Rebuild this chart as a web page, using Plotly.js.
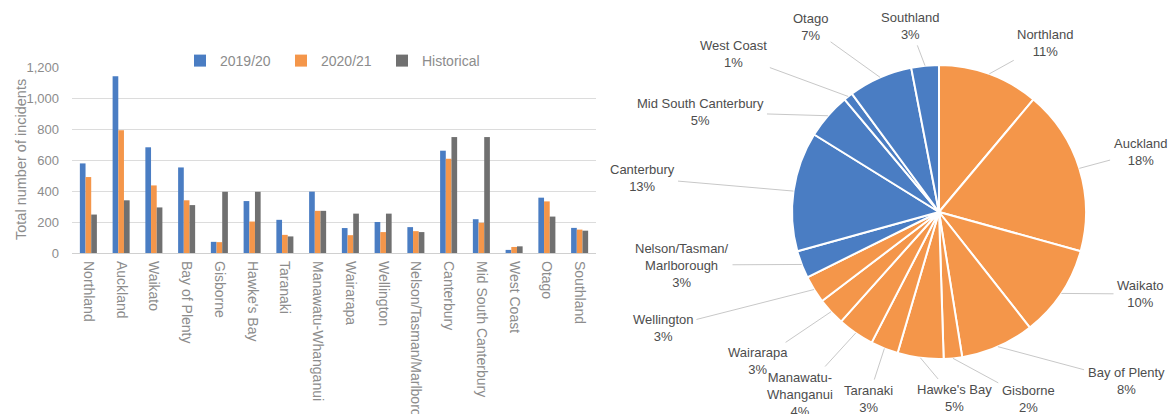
<!DOCTYPE html>
<html>
<head>
<meta charset="utf-8">
<script src="https://cdn.plot.ly/plotly-3.0.1.min.js"></script>
<style>
  html, body { margin: 0; padding: 0; background: #ffffff; }
  #chart { width: 1169px; height: 414px; }
</style>
</head>
<body>
<div id="chart"></div>
<script>
// Regions, listed north to south
const regions = [
  "Northland", "Auckland", "Waikato", "Bay of Plenty", "Gisborne", "Hawke's Bay",
  "Taranaki", "Manawatu-Whanganui", "Wairarapa", "Wellington", "Nelson/Tasman/Marlborough",
  "Canterbury", "Mid South Canterbury", "West Coast", "Otago", "Southland"
];
// Island of each region (N = North Island, S = South Island)
const island = ["N","N","N","N","N","N","N","N","N","N","S","S","S","S","S","S"];

// Incident counts per region
const incidents2019 = [578, 1140, 682, 552, 72, 335, 214, 396, 161, 200, 167, 660, 218, 20, 357, 162];
const incidents2020 = [490, 792, 436, 340, 70, 203, 117, 272, 115, 135, 141, 608, 195, 39, 333, 151];
const incidentsHist = [248, 340, 294, 309, 395, 395, 107, 272, 254, 254, 135, 748, 748, 43, 235, 144];

// Share of incidents per region (%), pie chart
const regionShare = [11, 18, 10, 8, 2, 5, 3, 4, 3, 3, 3, 13, 5, 1, 7, 3];
// Pie label text (line-wrapped region names)
const pieNames = [
  "Northland", "Auckland", "Waikato", "Bay of Plenty", "Gisborne", "Hawke's Bay",
  "Taranaki", "Manawatu-<br>Whanganui", "Wairarapa", "Wellington", "Nelson/Tasman/<br>Marlborough",
  "Canterbury", "Mid South Canterbury", "West Coast", "Otago", "Southland"
];

const yTicks = [0, 200, 400, 600, 800, 1000, 1200];

// ---- layout constants ----
const W = 1169, H = 414;
const BLUE = "#4a7dc3", ORANGE = "#f4964a", GREY = "#707070";
const AXIS_TEXT = "#8c8c8c", PIE_TEXT = "#4d4d4d";
const FONT = "Liberation Sans, Arial, sans-serif";

// bar plot area (pixels)
const barArea = { x0: 72, x1: 596, yTop: 67, yBottom: 253 };
// pie circle (pixels)
const pieC = { cx: 939, cy: 212, r: 147 };
// pie label centres (pixels), in slice order
const labelPos = [
  [1045, 43], [1140, 152], [1140, 294], [1126, 381], [1028, 399], [954, 398],
  [868, 399], [800, 394], [758, 361], [663, 328], [682, 265],
  [642, 178], [700, 112], [733, 54], [810, 27], [910, 26]
];

const px2x = p => p / W;
const px2y = p => 1 - p / H;

const barTrace = (name, y, color) => ({
  type: "bar", name: name, x: regions, y: y,
  marker: { color: color },
  xaxis: "x", yaxis: "y",
  hoverinfo: "x+y+name"
});

const pieTrace = {
  type: "pie",
  labels: regions,
  values: regionShare,
  sort: false,
  direction: "clockwise",
  rotation: 0,
  textinfo: "none",
  showlegend: false,
  marker: {
    colors: island.map(s => s === "N" ? ORANGE : BLUE),
    line: { color: "#ffffff", width: 2 }
  },
  domain: {
    x: [px2x(pieC.cx - pieC.r), px2x(pieC.cx + pieC.r)],
    y: [px2y(pieC.cy + pieC.r), px2y(pieC.cy - pieC.r)]
  }
};

// pie labels with leader lines to the middle of each slice's rim
const total = regionShare.reduce((a, b) => a + b, 0);
let cum = 0;
const pieAnnotations = regionShare.map((v, i) => {
  const mid = (cum + v / 2) / total * 2 * Math.PI;
  cum += v;
  const rx = pieC.cx + pieC.r * Math.sin(mid);
  const ry = pieC.cy - pieC.r * Math.cos(mid);
  const [lx, ly] = labelPos[i];
  return {
    xref: "paper", yref: "paper",
    x: px2x(rx), y: px2y(ry),
    ax: lx - rx, ay: ly - ry,
    text: pieNames[i] + "<br>" + v + "%",
    showarrow: true, arrowhead: 0, arrowwidth: 1, arrowcolor: "#c8c8c8",
    standoff: 0, startstandoff: 2,
    font: { family: FONT, size: 13, color: PIE_TEXT },
    align: "center"
  };
});

const yTitle = {
  xref: "paper", yref: "paper",
  x: px2x(11), y: px2y((barArea.yTop + barArea.yBottom) / 2),
  text: "Total number of incidents", textangle: -90, showarrow: false,
  font: { family: FONT, size: 14.5, color: AXIS_TEXT }
};

const layout = {
  width: W, height: H,
  margin: { l: 0, r: 0, t: 0, b: 0 },
  paper_bgcolor: "#ffffff", plot_bgcolor: "#ffffff",
  font: { family: FONT, size: 12, color: AXIS_TEXT },
  barmode: "group",
  bargap: 0.48,
  bargroupgap: 0,
  xaxis: {
    domain: [px2x(barArea.x0), px2x(barArea.x1)],
    anchor: "y",
    tickangle: 90,
    showline: false, showgrid: false, ticks: "",
    ticklabelstandoff: 7,
    tickfont: { family: FONT, size: 14, color: AXIS_TEXT },
    automargin: false
  },
  yaxis: {
    domain: [px2y(barArea.yBottom), px2y(barArea.yTop)],
    anchor: "x",
    range: [0, 1200],
    tickvals: yTicks,
    tickformat: ",",
    showgrid: true, gridcolor: "#dcdcdc", gridwidth: 1,
    zeroline: true, zerolinecolor: "#d0d0d0", zerolinewidth: 1,
    showline: false, ticks: "",
    ticklabelstandoff: 12,
    tickfont: { family: FONT, size: 13, color: AXIS_TEXT },
    automargin: false
  },
  legend: {
    orientation: "h",
    x: px2x(180), xanchor: "left",
    y: px2y(61), yanchor: "middle",
    font: { family: FONT, size: 14, color: AXIS_TEXT },
    entrywidth: 56, entrywidthmode: "pixels",
    itemwidth: 30,
    bgcolor: "rgba(0,0,0,0)"
  },
  annotations: [yTitle].concat(pieAnnotations),
  showlegend: true
};

const data = [
  barTrace("2019/20", incidents2019, BLUE),
  barTrace("2020/21", incidents2020, ORANGE),
  barTrace("Historical", incidentsHist, GREY),
  pieTrace
];

Plotly.newPlot("chart", data, layout, { displayModeBar: false, staticPlot: true });
</script>
</body>
</html>
